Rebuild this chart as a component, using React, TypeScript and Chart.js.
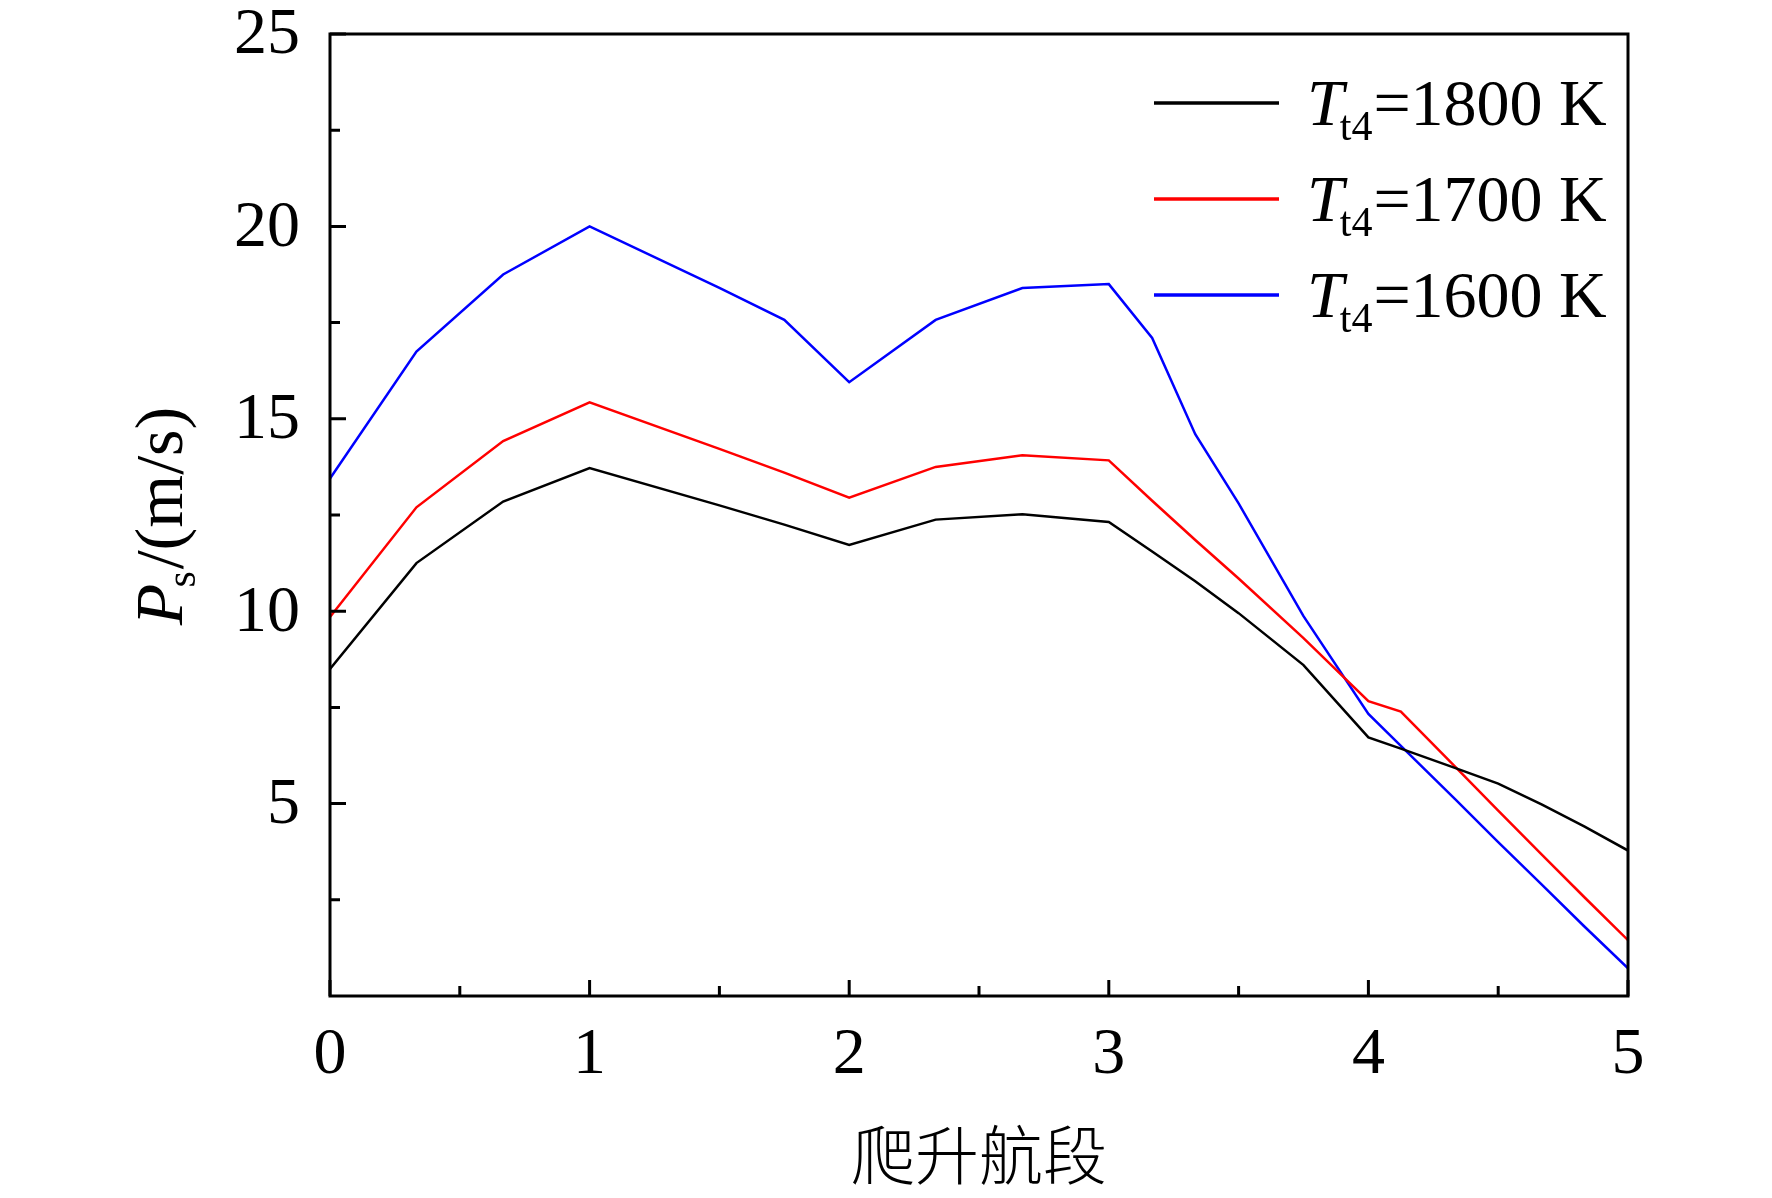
import { useEffect, useRef } from "react";
import { Chart, registerables } from "chart.js";

Chart.register(...registerables);

// 爬升航段位置（横坐标）
const segments = [0, 0.333, 0.667, 1, 1.5, 1.75, 2, 2.333, 2.667, 3, 3.167, 3.333, 3.5, 3.75, 4, 4.125, 4.333, 4.5, 4.667, 4.833, 5];

// 单位剩余功率 Ps (m/s)
const ps1800 = [8.5, 11.25, 12.85, 13.72, 12.75, 12.25, 11.72, 12.38, 12.52, 12.32, 11.55, 10.78, 9.95, 8.6, 6.72, 6.43, 5.93, 5.52, 4.98, 4.4, 3.78];
const ps1700 = [9.85, 12.7, 14.42, 15.43, 14.22, 13.6, 12.95, 13.75, 14.05, 13.92, 12.87, 11.85, 10.85, 9.3, 7.66, 7.39, 5.97, 4.82, 3.68, 2.56, 1.45];
const ps1600 = [13.45, 16.75, 18.75, 20.0, 18.4, 17.57, 15.95, 17.57, 18.4, 18.5, 17.1, 14.6, 12.8, 9.87, 7.33, 6.5, 5.12, 4.0, 2.9, 1.8, 0.72];

const seriesNames = ["1800", "1700", "1600"];
const seriesColors = ["#000000", "#ff0000", "#0000ff"];

const xTicks = [0, 1, 2, 3, 4, 5];
const xMinorTicks = [0.5, 1.5, 2.5, 3.5, 4.5];
const yTicks = [5, 10, 15, 20, 25];
const yMinorTicks = [2.5, 7.5, 12.5, 17.5, 22.5];

const SERIF = '"Liberation Serif", "Times New Roman", serif';

const framePlugin = {
  id: "frame",
  afterDraw(chart: any) {
    const { ctx, chartArea } = chart;
    const { left, right, top, bottom } = chartArea;
    const xs = chart.scales.x;
    const ys = chart.scales.y;

    ctx.save();
    ctx.strokeStyle = "#000";
    ctx.lineWidth = 3;
    ctx.strokeRect(left, top, right - left, bottom - top);

    // 内向刻度
    ctx.beginPath();
    xTicks.forEach((v) => {
      const px = xs.getPixelForValue(v);
      ctx.moveTo(px, bottom);
      ctx.lineTo(px, bottom - 16);
    });
    xMinorTicks.forEach((v) => {
      const px = xs.getPixelForValue(v);
      ctx.moveTo(px, bottom);
      ctx.lineTo(px, bottom - 10);
    });
    yTicks.forEach((v) => {
      const py = ys.getPixelForValue(v);
      ctx.moveTo(left, py);
      ctx.lineTo(left + 16, py);
    });
    yMinorTicks.forEach((v) => {
      const py = ys.getPixelForValue(v);
      ctx.moveTo(left, py);
      ctx.lineTo(left + 10, py);
    });
    ctx.stroke();

    // 刻度标签
    ctx.fillStyle = "#000";
    ctx.font = `66px ${SERIF}`;
    ctx.textAlign = "center";
    ctx.textBaseline = "middle";
    xTicks.forEach((v) => {
      ctx.fillText(String(v), xs.getPixelForValue(v), 1056);
    });
    ctx.textAlign = "right";
    yTicks.forEach((v) => {
      ctx.fillText(String(v), left - 30, ys.getPixelForValue(v) + 2);
    });

    // 横轴标题
    ctx.textAlign = "center";
    ctx.font = `300 64px "Noto Sans CJK SC", sans-serif`;
    ctx.fillText("爬升航段", (left + right) / 2, 1155);

    // 纵轴标题 Ps/(m/s)
    ctx.save();
    ctx.translate(182, (top + bottom) / 2);
    ctx.rotate(-Math.PI / 2);
    ctx.textAlign = "left";
    ctx.textBaseline = "alphabetic";
    const big = `68px ${SERIF}`;
    const bigItalic = `italic 68px ${SERIF}`;
    const small = `42px ${SERIF}`;
    ctx.font = bigItalic;
    const wP = ctx.measureText("P").width;
    ctx.font = small;
    const wS = ctx.measureText("s").width;
    ctx.font = big;
    const wRest = ctx.measureText("/(m/s)").width;
    let x = -(wP + wS + wRest) / 2;
    ctx.font = bigItalic;
    ctx.fillText("P", x, 0);
    x += wP - 4;
    ctx.font = small;
    ctx.fillText("s", x, 13);
    x += wS + 2;
    ctx.font = big;
    ctx.fillText("/(m/s)", x, 0);
    ctx.restore();

    // 图例
    seriesNames.forEach((name, i) => {
      const ly = 103 + i * 96;
      ctx.strokeStyle = seriesColors[i];
      ctx.lineWidth = 3.5;
      ctx.beginPath();
      ctx.moveTo(1154, ly);
      ctx.lineTo(1279, ly);
      ctx.stroke();

      ctx.fillStyle = "#000";
      ctx.textAlign = "left";
      ctx.textBaseline = "alphabetic";
      let tx = 1307;
      ctx.font = `italic 66px ${SERIF}`;
      ctx.fillText("T", tx, ly + 22);
      tx += ctx.measureText("T").width - 4;
      ctx.font = `42px ${SERIF}`;
      ctx.fillText("t4", tx, ly + 37);
      tx += ctx.measureText("t4").width + 1;
      ctx.font = `66px ${SERIF}`;
      ctx.fillText(`=${name} K`, tx, ly + 22);
    });
    ctx.restore();
  },
};

export default function App() {
  const canvasRef = useRef<HTMLCanvasElement>(null);
  const chartRef = useRef<Chart | null>(null);

  useEffect(() => {
    if (!canvasRef.current) return;
    if (chartRef.current) chartRef.current.destroy();

    const toPoints = (ys: number[]) => segments.map((x, i) => ({ x, y: ys[i] }));
    const allSeries = [ps1800, ps1700, ps1600];

    chartRef.current = new Chart(canvasRef.current, {
      type: "line",
      data: {
        datasets: allSeries.map((ys, i) => ({
          label: `Tt4=${seriesNames[i]} K`,
          data: toPoints(ys),
          borderColor: seriesColors[i],
          borderWidth: 2.5,
          pointRadius: 0,
          tension: 0,
          fill: false,
        })),
      },
      options: {
        responsive: false,
        animation: false,
        devicePixelRatio: 1,
        layout: { padding: { left: 330, right: 144, top: 34, bottom: 202 } },
        plugins: { legend: { display: false }, tooltip: { enabled: false } },
        scales: {
          x: { type: "linear", min: 0, max: 5, display: false },
          y: { type: "linear", min: 0, max: 25, display: false },
        },
      },
      plugins: [framePlugin],
    });

    return () => {
      if (chartRef.current) {
        chartRef.current.destroy();
        chartRef.current = null;
      }
    };
  }, []);

  return (
    <div style={{ position: "fixed", left: 0, top: 0, width: 1772, height: 1198, background: "#fff" }}>
      <canvas ref={canvasRef} width={1772} height={1198} />
    </div>
  );
}
